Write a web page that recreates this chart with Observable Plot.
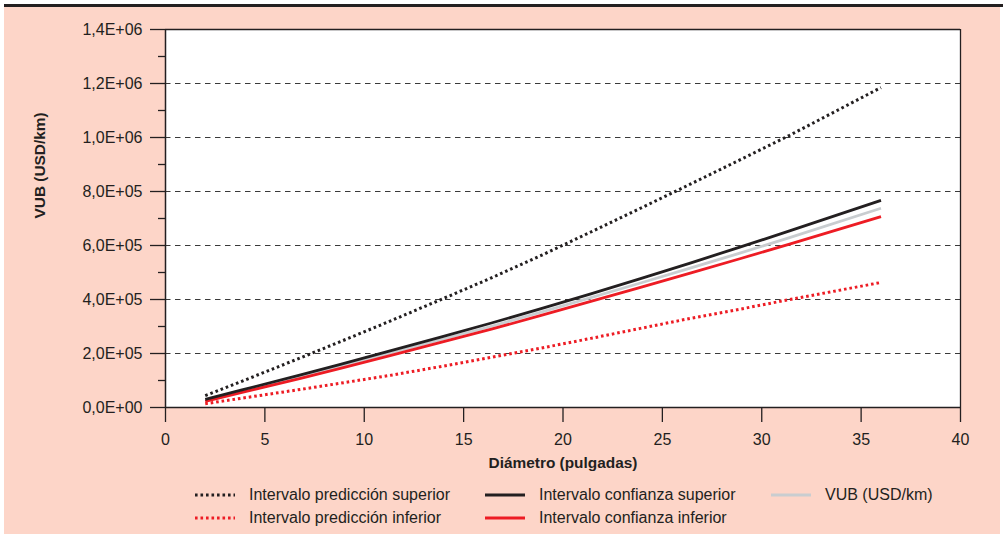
<!DOCTYPE html>
<html>
<head>
<meta charset="utf-8">
<script src="https://cdn.jsdelivr.net/npm/d3@7"></script>
<script src="https://cdn.jsdelivr.net/npm/@observablehq/plot@0.6"></script>
<style>
  html, body { margin: 0; padding: 0; background: #ffffff; }
  #page { position: relative; width: 1003px; height: 534px; overflow: hidden; background: #ffffff;
          font-family: "Liberation Sans", Arial, Helvetica, sans-serif; color: #231f20; }
  #panel { position: absolute; left: 4px; top: 7px; width: 996px; height: 527px; background: #fdd5c8; }
  #topline { position: absolute; left: 4px; top: 4px; width: 999px; height: 3px; background: #231f20; }
  #chart { position: absolute; left: 0; top: 0; }
  .leg { position: absolute; display: flex; align-items: center; font-size: 16px; white-space: nowrap; }
  .leg svg { margin-right: 14px; }
</style>
</head>
<body>
<div id="page">
  <div id="panel"></div>
  <div id="topline"></div>
  <div id="chart"></div>
  <div id="legend"></div>
</div>
<script>
// ---- data ----
const diameters = [2, 3.8, 6.8, 8.8, 11.3, 13.8, 16.4, 18.9, 21.4, 23.9, 26.4, 28.9, 31.4, 36];
const predSup  = [44000, 96000, 184000, 244000, 320000, 398000, 480000, 563000, 650000, 738000, 827000, 917000, 1008000, 1185000];
const predInf  = [14000, 34000, 67000, 90000, 119000, 151000, 186000, 220000, 256000, 293000, 330000, 364000, 400000, 463000];
const confSup  = [30000, 64000, 121000, 160000, 210000, 260000, 313000, 366000, 421000, 477000, 535000, 594000, 654000, 767000];
const confInf  = [23000, 55000, 108000, 145000, 192000, 240000, 290000, 341000, 393000, 445000, 498000, 551000, 605000, 707000];
const vub      = [26000, 60000, 114000, 152000, 201000, 250000, 301000, 353000, 407000, 461000, 516000, 572000, 629000, 738000];

const seriesNames = ["Intervalo predicción superior", "Intervalo predicción inferior",
                     "Intervalo confianza superior", "Intervalo confianza inferior", "VUB (USD/km)"];
const xTicks = [0, 5, 10, 15, 20, 25, 30, 35, 40];
const yTicks = [0, 200000, 400000, 600000, 800000, 1000000, 1200000, 1400000];
const yTickLabels = ["0,0E+00", "2,0E+05", "4,0E+05", "6,0E+05", "8,0E+05", "1,0E+06", "1,2E+06", "1,4E+06"];
const yMinorTicks = [100000, 300000, 500000, 700000, 900000, 1100000, 1300000];
const gridValues = [200000, 400000, 600000, 800000, 1000000, 1200000];
const xLabel = "Diámetro (pulgadas)";
const yLabel = "VUB (USD/km)";

// ---- styles ----
const BLACK = "#231f20", RED = "#ed1c24", GRAY = "#c9cdd0";
const styles = {
  "Intervalo predicción superior": {stroke: BLACK, dash: "2.6,2.9", width: 3},
  "Intervalo predicción inferior": {stroke: RED, dash: "2.6,2.9", width: 3},
  "Intervalo confianza superior": {stroke: BLACK, dash: null, width: 2.8},
  "Intervalo confianza inferior": {stroke: RED, dash: null, width: 2.8},
  "VUB (USD/km)": {stroke: GRAY, dash: null, width: 2.8}
};
const valuesBySeries = {
  "Intervalo predicción superior": predSup,
  "Intervalo predicción inferior": predInf,
  "Intervalo confianza superior": confSup,
  "Intervalo confianza inferior": confInf,
  "VUB (USD/km)": vub
};
const drawOrder = ["Intervalo predicción inferior", "Intervalo predicción superior",
                   "VUB (USD/km)", "Intervalo confianza inferior", "Intervalo confianza superior"];

const lineMarks = drawOrder.map(name => {
  const data = diameters.map((d, i) => ({x: d, y: valuesBySeries[name][i]}));
  const s = styles[name];
  return Plot.line(data, {x: "x", y: "y", stroke: s.stroke, strokeWidth: s.width,
    strokeDasharray: s.dash, strokeLinecap: "butt", curve: "linear"});
});

const FONT = "'Liberation Sans', Arial, Helvetica, sans-serif";
const chart = Plot.plot({
  width: 1003,
  height: 480,
  marginLeft: 165,
  marginRight: 43,
  marginTop: 29,
  marginBottom: 73,
  style: {background: "transparent", fontFamily: FONT, fontSize: "16px", color: BLACK},
  x: {domain: [0, 40]},
  y: {domain: [0, 1400000]},
  marks: [
    Plot.frame({fill: "white", stroke: null}),
    Plot.ruleY(gridValues, {stroke: "#3a3a3a", strokeWidth: 1, strokeDasharray: "5.5,4.5"}),
    ...lineMarks,
    Plot.ruleY([1400000], {stroke: BLACK, strokeWidth: 1.3}),
    Plot.ruleX([40], {stroke: BLACK, strokeWidth: 1.3}),
    Plot.ruleX([0], {stroke: BLACK, strokeWidth: 1.5}),
    Plot.ruleY([0], {stroke: BLACK, strokeWidth: 1.5}),
    Plot.axisY({ticks: yTicks, tickSize: 15, tickPadding: 8, tickFormat: (d, i) => yTickLabels[i],
      fontSize: 16, stroke: BLACK, strokeWidth: 1.3, label: null}),
    Plot.axisY({ticks: yMinorTicks, tickSize: 7, tickFormat: () => "", stroke: BLACK, strokeWidth: 1.3, label: null}),
    Plot.axisX({ticks: xTicks, tickSize: 15, tickPadding: 11, fontSize: 16, stroke: BLACK, strokeWidth: 1.3, label: null}),
    Plot.text([xLabel], {frameAnchor: "bottom", dy: 60, fontSize: 15.4, fontWeight: "bold", fill: BLACK}),
    Plot.text([yLabel], {frameAnchor: "left", dx: -125, rotate: -90, fontSize: 15.4, fontWeight: "bold", fill: BLACK})
  ]
});
document.getElementById("chart").appendChild(chart);

// ---- legend ----
const legendLayout = [
  {name: "Intervalo predicción superior", left: 195, top: 495},
  {name: "Intervalo predicción inferior", left: 195, top: 518},
  {name: "Intervalo confianza superior", left: 485, top: 495},
  {name: "Intervalo confianza inferior", left: 485, top: 518},
  {name: "VUB (USD/km)", left: 771, top: 495}
];
const legend = document.getElementById("legend");
legendLayout.forEach(item => {
  const s = styles[item.name];
  const div = document.createElement("div");
  div.className = "leg";
  div.style.left = item.left + "px";
  div.style.top = (item.top - 10) + "px";
  div.style.height = "20px";
  const ns = "http://www.w3.org/2000/svg";
  const svg = document.createElementNS(ns, "svg");
  svg.setAttribute("width", 40); svg.setAttribute("height", 6);
  const ln = document.createElementNS(ns, "line");
  ln.setAttribute("x1", 0); ln.setAttribute("x2", 40); ln.setAttribute("y1", 3); ln.setAttribute("y2", 3);
  ln.setAttribute("stroke", s.stroke); ln.setAttribute("stroke-width", s.width);
  if (s.dash) ln.setAttribute("stroke-dasharray", s.dash);
  svg.appendChild(ln);
  const span = document.createElement("span");
  span.textContent = item.name;
  div.appendChild(svg); div.appendChild(span);
  legend.appendChild(div);
});
</script>
</body>
</html>
